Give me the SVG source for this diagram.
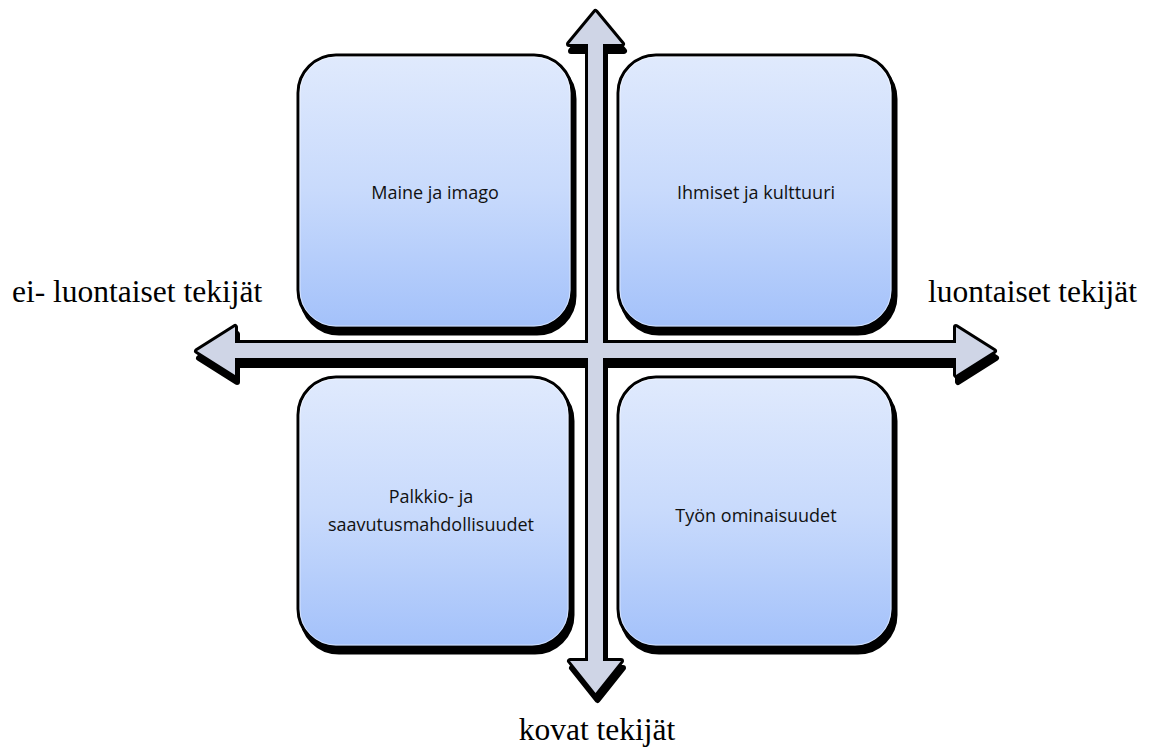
<svg xmlns="http://www.w3.org/2000/svg" width="1157" height="753" viewBox="0 0 1157 753">
  <defs>
    <linearGradient id="boxGrad" x1="0" y1="0" x2="0" y2="1">
      <stop offset="0" stop-color="#E0EAFD"/>
      <stop offset="0.5" stop-color="#C8DAFC"/>
      <stop offset="1" stop-color="#A3C1FA"/>
    </linearGradient>
    <path id="hArrow" d="M197,351 L235,327 L235,343 L956,343 L956,327 L994,351 L956,375 L956,358 L235,358 L235,375 Z"/>
    <path id="vArrow" d="M595.5,12 L622,44 L603,44 L603,661 L621,661 L595.5,693 L570,661 L588,661 L588,44 L569,44 Z"/>
  </defs>
  <style>
    .bg { fill: #FFFFFF; }
    .boxShadow { fill: #000000; stroke: #000000; stroke-width: 3; }
    .box { fill: url(#boxGrad); stroke: #000000; stroke-width: 3; }
    .boxInner { fill: none; stroke: #FFFFFF; stroke-opacity: 0.5; stroke-width: 1; }
    .boxText { font-family: "Open Sans", "Liberation Sans", sans-serif; font-size: 18px; fill: #111111; text-anchor: middle; }
    .axisText { font-family: "Liberation Serif", "Times New Roman", serif; font-size: 31.5px; fill: #000000; }
    .arrowShadow { fill: #000000; stroke: #000000; stroke-width: 6; stroke-linejoin: round; }
    .arrowOutline { fill: none; stroke: #000000; stroke-width: 6; stroke-linejoin: round; }
    .arrowFill { fill: #CFD5E6; stroke: none; }
  </style>
  <rect class="bg" x="0" y="0" width="1157" height="753"/>

  <g id="node-maine">
    <rect class="boxShadow" x="301" y="61" width="274" height="273" rx="38" ry="38"/>
    <rect class="box" x="298" y="55" width="274" height="273" rx="38" ry="38"/>
    <rect class="boxInner" x="300" y="57" width="270" height="269" rx="36" ry="36"/>
    <text class="boxText" x="435" y="199">Maine ja imago</text>
  </g>

  <g id="node-ihmiset">
    <rect class="boxShadow" x="621" y="61" width="275" height="273" rx="38" ry="38"/>
    <rect class="box" x="618" y="55" width="275" height="273" rx="38" ry="38"/>
    <rect class="boxInner" x="620" y="57" width="271" height="269" rx="36" ry="36"/>
    <text class="boxText" x="756" y="199">Ihmiset ja kulttuuri</text>
  </g>

  <g id="node-palkkio">
    <rect class="boxShadow" x="301" y="383" width="272" height="270" rx="38" ry="38"/>
    <rect class="box" x="298" y="377" width="272" height="270" rx="38" ry="38"/>
    <rect class="boxInner" x="300" y="379" width="268" height="266" rx="36" ry="36"/>
    <text class="boxText" x="431" y="503">Palkkio- ja</text>
    <text class="boxText" x="431" y="531">saavutusmahdollisuudet</text>
  </g>

  <g id="node-tyon">
    <rect class="boxShadow" x="621" y="383" width="275" height="270" rx="38" ry="38"/>
    <rect class="box" x="618" y="377" width="275" height="270" rx="38" ry="38"/>
    <rect class="boxInner" x="620" y="379" width="271" height="266" rx="36" ry="36"/>
    <text class="boxText" x="756" y="522">Työn ominaisuudet</text>
  </g>

  <g id="connectors">
    <use href="#hArrow" class="arrowShadow" transform="translate(2,7)"/>
    <use href="#vArrow" class="arrowShadow" transform="translate(2,7)"/>
    <use href="#hArrow" class="arrowOutline"/>
    <use href="#vArrow" class="arrowOutline"/>
    <use href="#hArrow" class="arrowFill"/>
    <use href="#vArrow" class="arrowFill"/>
  </g>

  <g id="labels">
    <text class="axisText" x="12" y="302">ei- luontaiset tekijät</text>
    <text class="axisText" x="928" y="302">luontaiset tekijät</text>
    <text class="axisText" x="597" y="740" text-anchor="middle">kovat tekijät</text>
  </g>
</svg>
